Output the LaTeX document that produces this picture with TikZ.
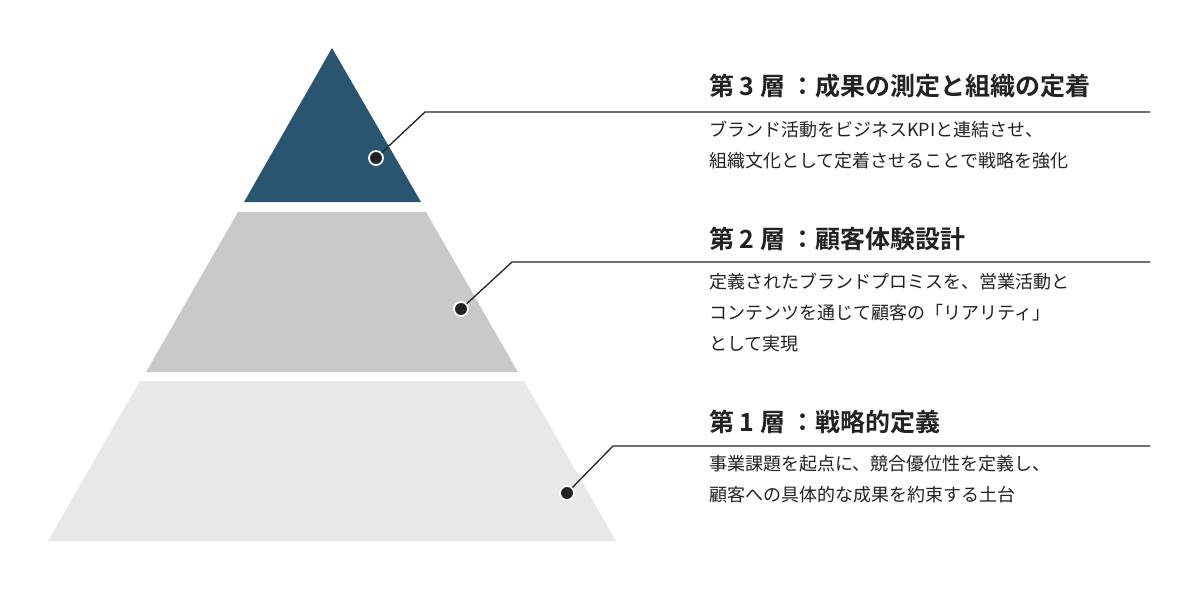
\documentclass[tikz,border=0pt]{standalone}
\usepackage{fontspec}
\setmainfont{Noto Sans CJK JP}
\newfontfamily\boldcjk[FakeBold=0]{Noto Sans CJK JP Bold}
\definecolor{dk}{HTML}{2A5570}
\definecolor{md}{HTML}{C9C9C9}
\definecolor{lt}{HTML}{E8E8E8}
\definecolor{tx}{HTML}{222222}
\begin{document}
\begin{tikzpicture}[x=1pt,y=-1pt,
  ttl/.style={anchor=base west,inner sep=0,text=tx,font=\boldcjk\fontsize{25}{30}\selectfont},
  bdy/.style={anchor=north west,inner sep=0,text=tx,align=left,font=\fontsize{18}{31}\selectfont},
  lead/.style={draw=tx,line width=1.3pt},
  dot/.style={circle,fill=tx,draw=white,line width=1.8pt,minimum size=14pt,inner sep=0}]
\useasboundingbox[fill=white] (0,0) rectangle (1200,590);
\fill[dk] (332,48) -- (421,202) -- (244,202) -- cycle;
\fill[md] (238,212) -- (426,212) -- (518,372) -- (146,372) -- cycle;
\fill[lt] (140,381) -- (524,381) -- (616,541) -- (48,541) -- cycle;
\node[dot] (d3) at (376,158) {};
\node[dot] (d2) at (461,309) {};
\node[dot] (d1) at (567,493) {};
\coordinate (k3) at (425,112); \coordinate (e3) at (1150,112);
\coordinate (k2) at (512,262); \coordinate (e2) at (1150,262);
\coordinate (k1) at (613,446); \coordinate (e1) at (1150,446);
\draw[lead] (d3) -- (k3) -- (e3);
\draw[lead] (d2) -- (k2) -- (e2);
\draw[lead] (d1) -- (k1) -- (e1);
\node[ttl] (t3) at (709,95) {第 3 層 ：成果の測定と組織の定着};
\node[ttl] (t2) at (709,248) {第 2 層 ：顧客体験設計};
\node[ttl] (t1) at (709,431) {第 1 層 ：戦略的定義};
\node[bdy] (b3) at (709,121) {ブランド活動をビジネスKPIと連結させ、\\組織文化として定着させることで戦略を強化};
\node[bdy] (b2) at (709,273) {定義されたブランドプロミスを、営業活動と\\コンテンツを通じて顧客の「リアリティ」\\として実現};
\node[bdy] (b1) at (709,455) {事業課題を起点に、競合優位性を定義し、\\顧客への具体的な成果を約束する土台};
\end{tikzpicture}
\end{document}
